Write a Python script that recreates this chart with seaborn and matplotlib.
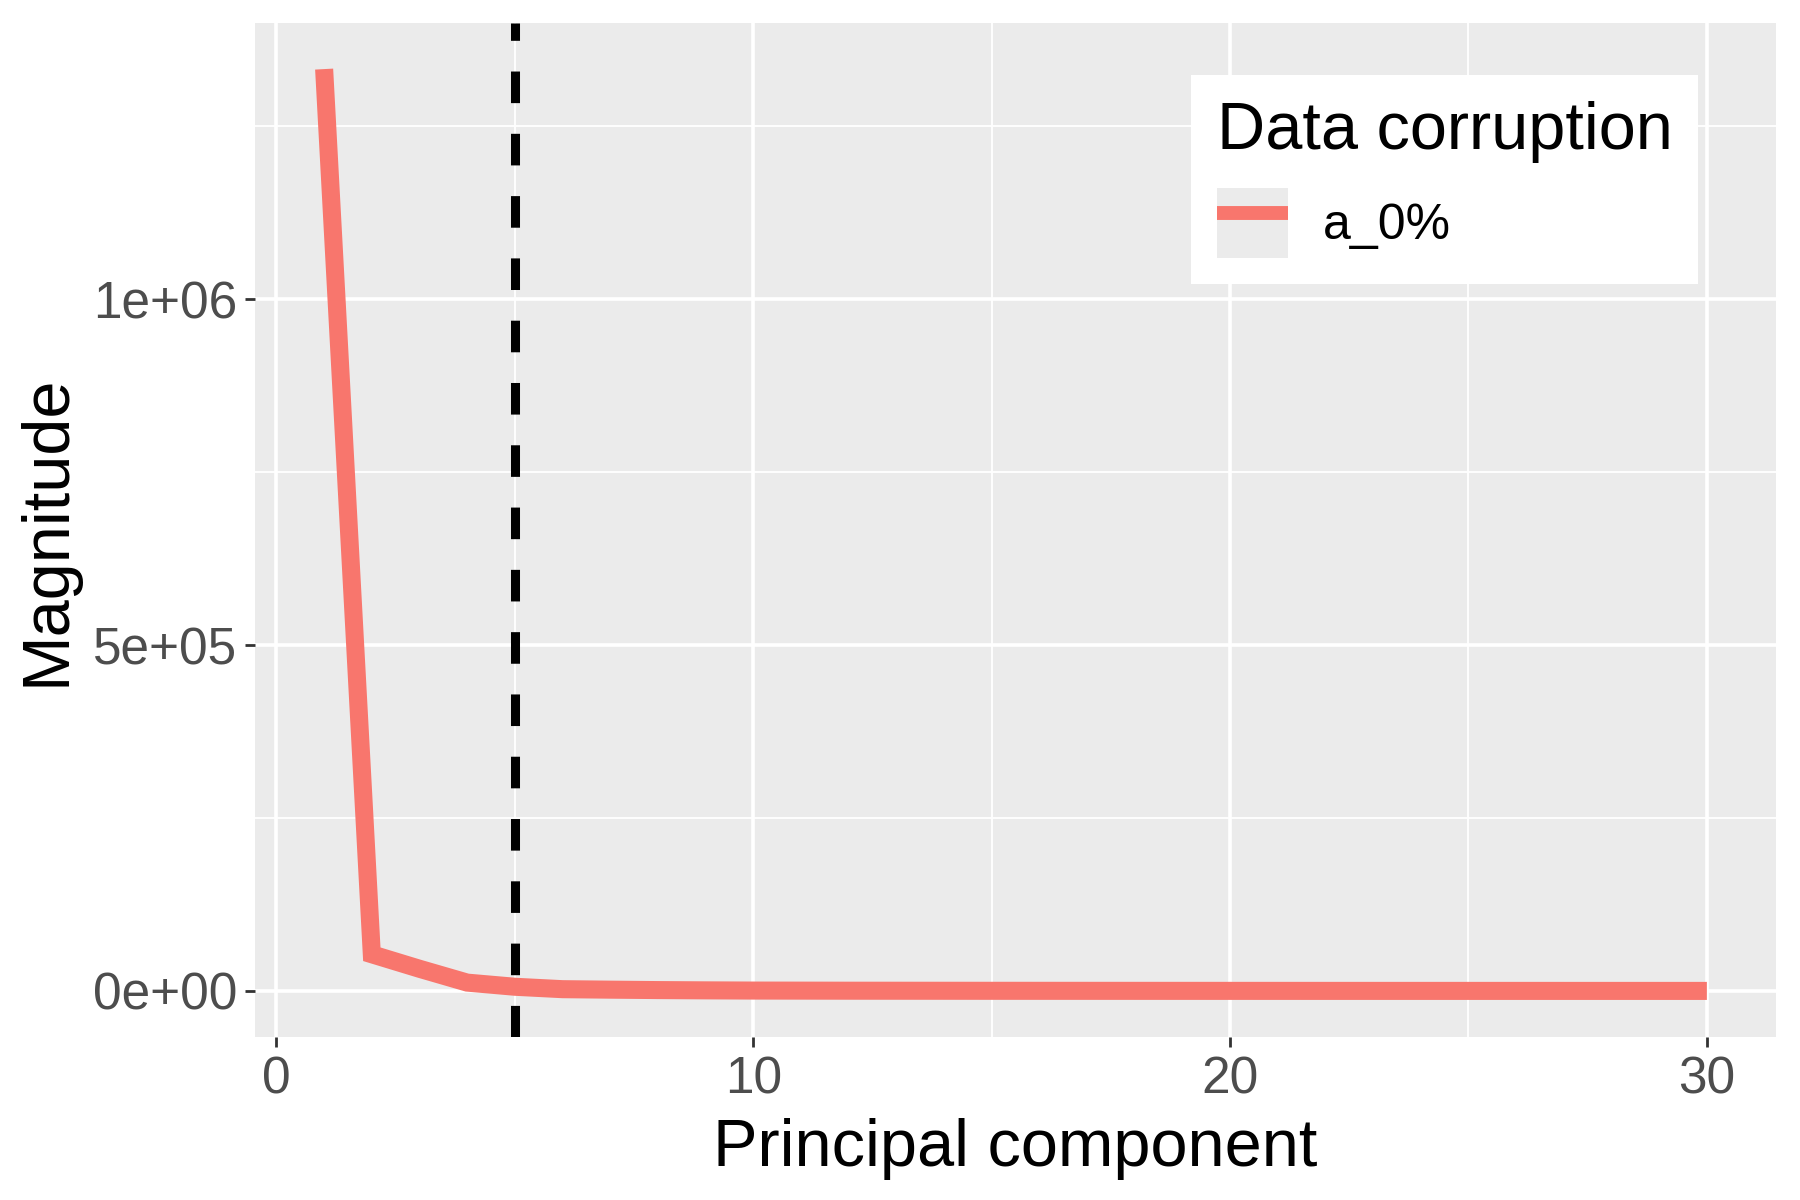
import seaborn as sns
import pandas as pd
import matplotlib.pyplot as plt
from matplotlib.patches import Patch
from matplotlib.lines import Line2D
from matplotlib.legend_handler import HandlerTuple

# scree data
components = list(range(1, 31))
magnitude = [1333000, 53000, 32000, 12000, 6000, 2500, 1800, 1200, 800, 500,
             400, 300, 250, 200, 160, 130, 110, 90, 75, 60,
             50, 40, 32, 25, 20, 15, 11, 8, 5, 3]
series = ["a_0%"] * len(components)
cutoff = 5

yticks = [0, 500000, 1000000]
ytick_labels = ["0e+00", "5e+05", "1e+06"]
xticks = [0, 10, 20, 30]
line_color = "#F8766D"

df = pd.DataFrame({"pc": components, "mag": magnitude, "Data corruption": series})

sns.set_theme(style="darkgrid", rc={
    "axes.facecolor": "#EBEBEB",
    "grid.color": "white",
    "axes.edgecolor": "none",
    "text.color": "black",
})
plt.rcParams["font.family"] = ["Liberation Sans", "DejaVu Sans"]

fig, ax = plt.subplots(figsize=(18, 12), dpi=100)
fig.subplots_adjust(left=255 / 1800, right=1776 / 1800, top=1 - 23 / 1200, bottom=1 - 1037 / 1200)

sns.lineplot(data=df, x="pc", y="mag", hue="Data corruption", palette=[line_color],
             linewidth=13, ax=ax, solid_joinstyle="miter", solid_capstyle="butt", legend=False)
ax.axvline(cutoff, color="black", linewidth=6.5, dashes=(3.5, 3.4), zorder=3)

ax.set_xlim(-0.45, 31.45)
ax.set_ylim(-66650, 1399650)
ax.set_xticks(xticks)
ax.set_xticks([5, 15, 25], minor=True)
ax.set_yticks(yticks)
ax.set_yticklabels(ytick_labels)
ax.set_yticks([250000, 750000, 1250000], minor=True)
ax.grid(which="major", color="white", linewidth=2.6)
ax.grid(which="minor", color="white", linewidth=1.3)

ax.tick_params(axis="both", which="major", labelsize=37, labelcolor="#4D4D4D",
               length=7, width=2, color="#333333", pad=6, bottom=True, left=True)
ax.tick_params(axis="both", which="minor", length=0)

ax.set_xlabel("Principal component", fontsize=48, color="black", labelpad=10)
ax.set_ylabel("Magnitude", fontsize=48, color="black", labelpad=10)

# ggplot-style key: grey square with the line drawn over it
key = (Patch(facecolor="#EBEBEB", edgecolor="none"),
       Line2D([], [], color=line_color, linewidth=10, solid_capstyle="butt"))
leg = ax.legend([key], ["a_0%"], handler_map={tuple: HandlerTuple(ndivide=1, pad=0)},
                title="Data corruption", loc="upper right", bbox_to_anchor=(0.949, 0.949),
                borderaxespad=0, fontsize=36, title_fontsize=48, frameon=True,
                fancybox=False, framealpha=1,
                handlelength=1.42, handleheight=1.8, handletextpad=0.7,
                borderpad=0.52, labelspacing=0.5)
leg.get_frame().set_facecolor("white")
leg.get_frame().set_edgecolor("none")
leg._legend_box.align = "left"

fig.savefig("out.png", dpi=100)
